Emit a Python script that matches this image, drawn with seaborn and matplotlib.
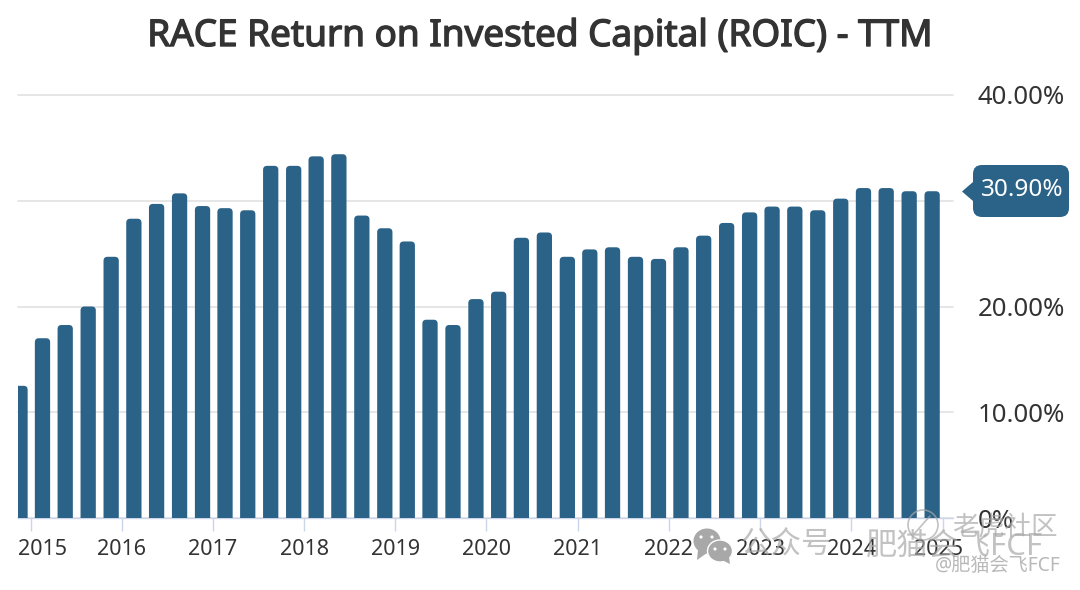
"""
RACE Return on Invested Capital (ROIC) - TTM, quarterly bars
"""
import pandas as pd
import seaborn as sns
import matplotlib.pyplot as plt
import matplotlib.dates as mdates
import matplotlib.patheffects as pe
from matplotlib.patches import Circle, Ellipse, FancyBboxPatch, PathPatch, Polygon
from matplotlib.path import Path
from matplotlib.transforms import ScaledTranslation

TITLE = "RACE Return on Invested Capital (ROIC) - TTM"
QUARTERS = pd.date_range("2014-12-31", "2024-12-31", freq="QE")
ROIC = [
    12.5, 17.0, 18.25, 20.0, 24.7, 28.3, 29.7, 30.7, 29.5, 29.3, 29.1,
    33.3, 33.3, 34.2, 34.4, 28.6, 27.4, 26.15, 18.75, 18.25, 20.7, 21.4,
    26.5, 27.0, 24.7, 25.4, 25.6, 24.7, 24.5, 25.6, 26.7, 27.9, 28.9,
    29.45, 29.45, 29.1, 30.2, 31.2, 31.2, 30.9, 30.9,
]
YEARS = list(range(2015, 2026))
Y_TICKS = [0, 10, 20, 30, 40]
Y_LABELS = ["0%", "10.00%", "20.00%", "30.00%", "40.00%"]
LAST_LABEL = "30.90%"

W, H = 1080, 590
BAR = "#2b6288"
TEXT = "#333333"
AXIS = "#ccd6eb"
GRID = "#e6e6e6"
MARK = "#a8a8a8"

sns.set_theme(style="white")
plt.rcParams["font.family"] = ["Noto Sans", "Noto Sans CJK SC", "DejaVu Sans"]

fig = plt.figure(figsize=(W / 100, H / 100), dpi=100)
left, right, top, bottom = 18, 953, 95, 518
ax = fig.add_axes([left / W, 1 - bottom / H, (right - left) / W, (bottom - top) / H])

# the site plots each quarter about six weeks ahead of its end date
df = pd.DataFrame({"x": mdates.date2num(QUARTERS - pd.Timedelta(days=41)), "roic": ROIC})
sns.barplot(data=df, x="x", y="roic", native_scale=True, color=BAR, saturation=1,
            width=0.68, linewidth=0, ax=ax, zorder=3)

# x limits from the year ticks: 2015 at px 30.5, 91.2 px per year
d2015 = mdates.date2num(pd.Timestamp("2015-01-01"))
per_px = 365.25 / 91.2
ax.set_xlim(d2015 - (30.5 - left) * per_px, d2015 + (right - 30.5) * per_px)
ax.set_ylim(0, 40)

# swap the square bars for ones with rounded tops
rx = 4 * per_px
ry = 4 * 40 / (bottom - top)
for bar in list(ax.patches):
    x0, w, h = bar.get_x(), bar.get_width(), bar.get_height()
    x1 = x0 + w
    verts = [(x0, 0), (x0, h - ry), (x0, h), (x0 + rx, h), (x1 - rx, h), (x1, h), (x1, h - ry), (x1, 0), (x0, 0)]
    codes = [Path.MOVETO, Path.LINETO, Path.CURVE3, Path.CURVE3, Path.LINETO,
             Path.CURVE3, Path.CURVE3, Path.LINETO, Path.CLOSEPOLY]
    ax.add_patch(PathPatch(Path(verts, codes), facecolor=BAR, edgecolor="none", zorder=3))
    bar.remove()

ax.set_xlabel("")
ax.set_ylabel("")
ax.yaxis.tick_right()
ax.set_yticks(Y_TICKS, Y_LABELS)
ax.set_xticks(mdates.date2num([pd.Timestamp(f"{y}-01-01") for y in YEARS]), [str(y) for y in YEARS])
ax.tick_params(axis="y", length=0, pad=17.5, labelsize=18.5, labelcolor=TEXT)
ax.tick_params(axis="x", length=9, width=1, color=AXIS, pad=6, labelsize=15.5, labelcolor=TEXT, bottom=True)
ax.grid(axis="y", color=GRID, linewidth=1.4, zorder=0, clip_on=False)
ax.set_axisbelow(True)
for name in ["left", "right", "top"]:
    ax.spines[name].set_visible(False)
ax.spines["bottom"].set_color(AXIS)
ax.spines["bottom"].set_linewidth(1)

# first and last year labels are pushed inside the plot
labels = ax.get_xticklabels()
labels[0].set_ha("left")
labels[0].set_transform(labels[0].get_transform() + ScaledTranslation(-12.5 / 100, 0, fig.dpi_scale_trans))
labels[-1].set_transform(labels[-1].get_transform() + ScaledTranslation(-4 / 100, 0, fig.dpi_scale_trans))

fig.text(540 / W, 1 - 37 / H, TITLE, ha="center", va="center", fontsize=26.55, color=TEXT,
         path_effects=[pe.withStroke(linewidth=1.0, foreground=TEXT)])

# overlay in pixel coordinates: last value tooltip and watermarks
ov = fig.add_axes([0, 0, 1, 1], facecolor="none")
ov.set_xlim(0, W)
ov.set_ylim(H, 0)
ov.axis("off")
ov.add_patch(FancyBboxPatch((980, 172), 82, 38, boxstyle="round,pad=7,rounding_size=9", facecolor=BAR, edgecolor="none"))
ov.add_patch(Polygon([(962, 191.5), (973, 182), (973, 201)], closed=True, facecolor=BAR, edgecolor="none"))
ov.text(1022, 190, LAST_LABEL, ha="center", va="center", fontsize=17.5, color="white")

ov.add_patch(Ellipse((707, 541), 27, 25, facecolor=MARK, edgecolor="none"))
ov.add_patch(Polygon([(698, 550), (697, 560), (707, 553)], closed=True, facecolor=MARK, edgecolor="none"))
ov.add_patch(Ellipse((720, 551), 25, 22, facecolor=MARK, edgecolor="white", linewidth=1))
ov.add_patch(Polygon([(722, 560), (730, 564), (729, 557)], closed=True, facecolor=MARK, edgecolor="none"))
for cx, cy in [(701, 537), (712, 537), (715, 549), (725, 549)]:
    ov.add_patch(Circle((cx, cy), 1.6, facecolor="white", edgecolor="none"))
ov.text(786, 546, "公众号", ha="center", va="center", fontsize=22, color=MARK, alpha=0.7)
ov.text(955, 546, "肥猫会飞FCF", ha="center", va="center", fontsize=22.5, color=MARK, alpha=0.7)
ov.text(1005, 527, "老虎社区", ha="center", va="center", fontsize=19, color=MARK, alpha=0.7)
ov.text(997.5, 566, "@肥猫会飞FCF", ha="center", va="center", fontsize=13.8, color=MARK, alpha=0.8)
ov.add_patch(Circle((923, 525), 15, facecolor="none", edgecolor=MARK, linewidth=1.2, alpha=0.7))
ov.plot([914, 930], [534, 516], color=MARK, linewidth=1.2, alpha=0.7)

fig.savefig("out.png", dpi=100)
